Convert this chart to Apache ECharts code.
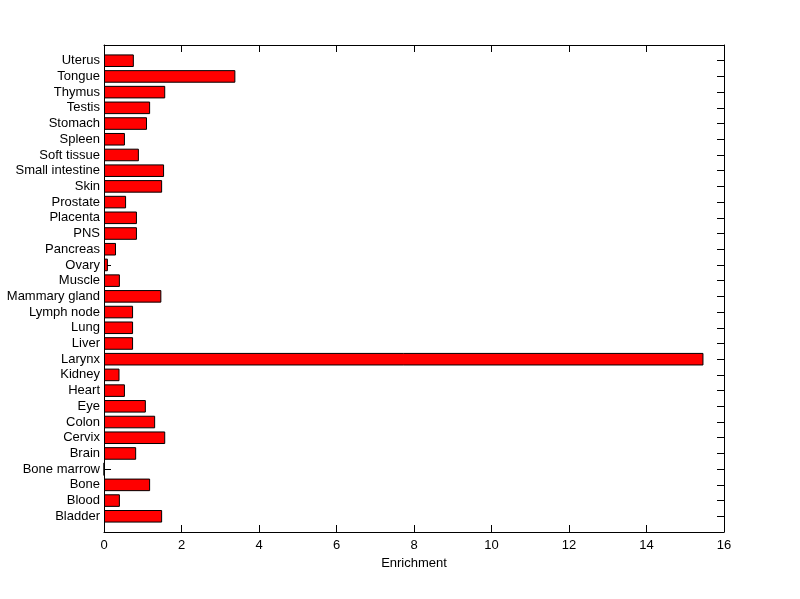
<!DOCTYPE html>
<html>
<head>
<meta charset="utf-8">
<script src="https://cdn.jsdelivr.net/npm/echarts@6/dist/echarts.min.js"></script>
<style>html,body{margin:0;padding:0;background:#fff;}#c{width:800px;height:599px;}</style>
</head>
<body>
<div id="c"></div>
<script>
// categories listed bottom to top
var categories = ['Bladder','Blood','Bone','Bone marrow','Brain','Cervix','Colon','Eye','Heart','Kidney','Larynx','Liver','Lung','Lymph node','Mammary gland','Muscle','Ovary','Pancreas','PNS','Placenta','Prostate','Skin','Small intestine','Soft tissue','Spleen','Stomach','Testis','Thymus','Tongue','Uterus'];
var enrichment = [1.50,0.41,1.19,0,0.83,1.58,1.32,1.08,0.54,0.40,15.47,0.75,0.75,0.75,1.48,0.41,0.10,0.31,0.85,0.85,0.57,1.50,1.55,0.90,0.54,1.11,1.19,1.58,3.39,0.77];
var xTicks = [0,2,4,6,8,10,12,14,16];

var yData = [''].concat(categories).concat(['']);
var barData = [null].concat(enrichment).concat([null]);
var font = 'Liberation Sans, Arial, sans-serif';
var chart = echarts.init(document.getElementById('c'), null, {renderer:'canvas'});
var lineStyle = {color:'#000', width:1};
function tick(){ return {show:true, inside:true, length:7, lineStyle:{color:'#000', width:1}}; }
chart.setOption({
  animation:false,
  backgroundColor:'#fff',
  grid:{left:104, right:76, top:45, bottom:67, containLabel:false},
  xAxis:[{
    type:'value', min:xTicks[0], max:xTicks[xTicks.length-1], interval:2, position:'bottom',
    axisLine:{show:true, onZero:false, lineStyle:lineStyle},
    axisTick:tick(),
    axisLabel:{color:'#000', fontFamily:font, fontSize:13, margin:7},
    splitLine:{show:false},
    name:'Enrichment', nameLocation:'middle', nameGap:25,
    nameTextStyle:{color:'#000', fontFamily:font, fontSize:13}
  },{
    type:'value', min:xTicks[0], max:xTicks[xTicks.length-1], interval:2, position:'top',
    axisLine:{show:true, onZero:false, lineStyle:lineStyle},
    axisTick:tick(),
    axisLabel:{show:false}, splitLine:{show:false}
  }],
  yAxis:[{
    type:'category', data:yData, boundaryGap:false, position:'left',
    axisLine:{show:true, onZero:false, lineStyle:lineStyle},
    axisTick:tick(),
    axisLabel:{color:'#000', fontFamily:font, fontSize:13, margin:4, interval:0},
    splitLine:{show:false}
  },{
    type:'category', data:yData, boundaryGap:false, position:'right',
    axisLine:{show:true, onZero:false, lineStyle:lineStyle},
    axisTick:tick(),
    axisLabel:{show:false}, splitLine:{show:false}
  }],
  series:[{
    type:'bar', xAxisIndex:0, yAxisIndex:0, data:barData, barWidth:'80%',
    itemStyle:{color:'#ff0000', borderColor:'#000', borderWidth:1},
    z:1
  }]
});
</script>
</body>
</html>
